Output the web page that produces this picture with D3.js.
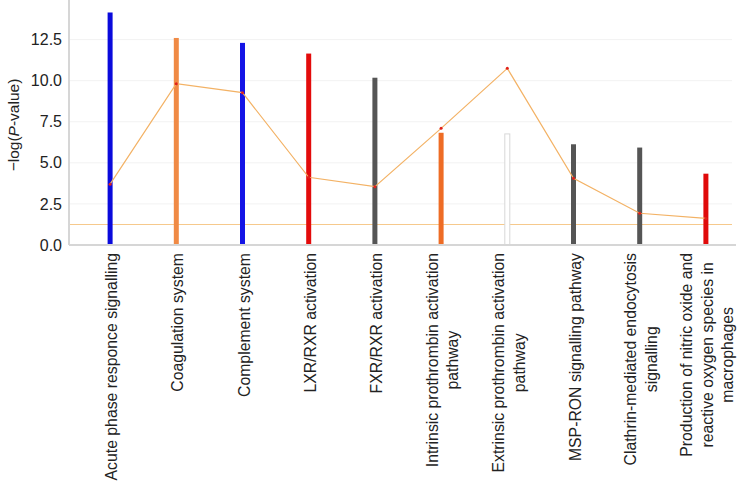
<!DOCTYPE html>
<html>
<head>
<meta charset="utf-8">
<script src="https://cdn.jsdelivr.net/npm/d3@7"></script>
<style>
  body { margin: 0; background: #fff; }
  text { font-family: "Liberation Sans", Arial, sans-serif; }
</style>
</head>
<body>
<div id="chart"></div>
<script>
// pathway labels (lines split where the original wraps)
const categories = [
  ["Acute phase responce signalling"],
  ["Coagulation system"],
  ["Complement system"],
  ["LXR/RXR activation"],
  ["FXR/RXR activation"],
  ["Intrinsic prothrombin activation", "pathway"],
  ["Extrinsic prothrombin activation", "pathway"],
  ["MSP-RON signalling pathway"],
  ["Clathrin-mediated endocytosis", "signalling"],
  ["Production of nitric oxide and", "reactive oxygen species in", "macrophages"]
];
const pValues = [14.15, 12.6, 12.3, 11.65, 10.18, 6.83, 6.76, 6.13, 5.93, 4.34];
const ratios = [3.7, 9.82, 9.27, 4.12, 3.55, 7.1, 10.75, 4.06, 1.93, 1.62];
const barColors = ["#0a0adc", "#f08a45", "#1414e6", "#e30b0b", "#555555",
                   "#ee6c25", "#ffffff", "#555555", "#555555", "#e00a0a"];
const threshold = 1.3;
const yTicks = [0, 2.5, 5, 7.5, 10, 12.5];

const width = 740, height = 492;
const margin = { top: 0, left: 69, right: 8, bottom: 247 };
const plotBottom = height - margin.bottom; // 245

const svg = d3.select("#chart")
  .append("svg")
  .attr("width", width)
  .attr("height", height);

const x = d3.scaleBand()
  .domain(d3.range(categories.length))
  .range([77, 739]);

const y = d3.scaleLinear()
  .domain([0, 12.5])
  .range([plotBottom, 39.6]);

// grid lines
svg.append("g")
  .selectAll("line")
  .data(yTicks.slice(1))
  .join("line")
  .attr("x1", margin.left)
  .attr("x2", 732)
  .attr("y1", d => y(d))
  .attr("y2", d => y(d))
  .attr("stroke", "#f2f2f2")
  .attr("stroke-width", 1);

// threshold line
svg.append("line")
  .attr("x1", margin.left)
  .attr("x2", 732)
  .attr("y1", Math.round(y(threshold)) + 0.5)
  .attr("y2", Math.round(y(threshold)) + 0.5)
  .attr("stroke", "#f6c98c")
  .attr("stroke-width", 1);

// bars
const bw = 5;
svg.append("g")
  .selectAll("rect")
  .data(pValues)
  .join("rect")
  .attr("x", (d, i) => x(i) + x.bandwidth() / 2 - bw / 2)
  .attr("y", d => y(d))
  .attr("width", bw)
  .attr("height", d => plotBottom - y(d))
  .attr("fill", (d, i) => barColors[i])
  .attr("stroke", (d, i) => barColors[i] === "#ffffff" ? "#d8d8d8" : "none")
  .attr("stroke-width", 1);

// ratio line
const line = d3.line()
  .x((d, i) => x(i) + x.bandwidth() / 2)
  .y(d => y(d));

svg.append("path")
  .datum(ratios)
  .attr("d", line)
  .attr("fill", "none")
  .attr("stroke", "#f3b265")
  .attr("stroke-width", 1.2);

svg.append("g")
  .selectAll("circle")
  .data(ratios)
  .join("circle")
  .attr("cx", (d, i) => x(i) + x.bandwidth() / 2)
  .attr("cy", d => y(d))
  .attr("r", 1.5)
  .attr("fill", "#e0201a");

// axes lines
svg.append("line")
  .attr("x1", margin.left).attr("x2", margin.left)
  .attr("y1", 0).attr("y2", plotBottom)
  .attr("stroke", "#d6d6d6").attr("stroke-width", 2);

svg.append("line")
  .attr("x1", margin.left).attr("x2", 736)
  .attr("y1", plotBottom).attr("y2", plotBottom)
  .attr("stroke", "#d6d6d6").attr("stroke-width", 2);

// y tick labels
svg.append("g")
  .selectAll("text")
  .data(yTicks)
  .join("text")
  .attr("x", 62)
  .attr("y", d => y(d))
  .attr("dy", "0.35em")
  .attr("text-anchor", "end")
  .attr("font-size", 16)
  .attr("fill", "#222")
  .text(d => d.toFixed(1));

// y label
const yl = svg.append("text")
  .attr("transform", "translate(14,125) rotate(-90)")
  .attr("dy", "0.35em")
  .attr("text-anchor", "middle")
  .attr("font-size", 15.5)
  .attr("fill", "#222");
yl.append("tspan").text("\u2212log(");
yl.append("tspan").attr("font-style", "italic").text("P");
yl.append("tspan").text("-value)");

// x labels, rotated, centred lines
const fs = 15.8, lh = 20.5;
categories.forEach((lines, i) => {
  const cx = x(i) + x.bandwidth() / 2;
  const g = svg.append("g")
    .attr("transform", `translate(${cx + 1.5},${plotBottom + 8}) rotate(-90)`);
  const texts = lines.map((t, k) =>
    g.append("text")
      .attr("font-size", fs)
      .attr("fill", "#222")
      .attr("text-anchor", "middle")
      .attr("y", (k - (lines.length - 1) / 2) * lh)
      .attr("dy", "0.35em")
      .text(t));
  const maxLen = d3.max(texts, t => t.node().getComputedTextLength());
  texts.forEach(t => t.attr("x", -maxLen / 2));
});
</script>
</body>
</html>
